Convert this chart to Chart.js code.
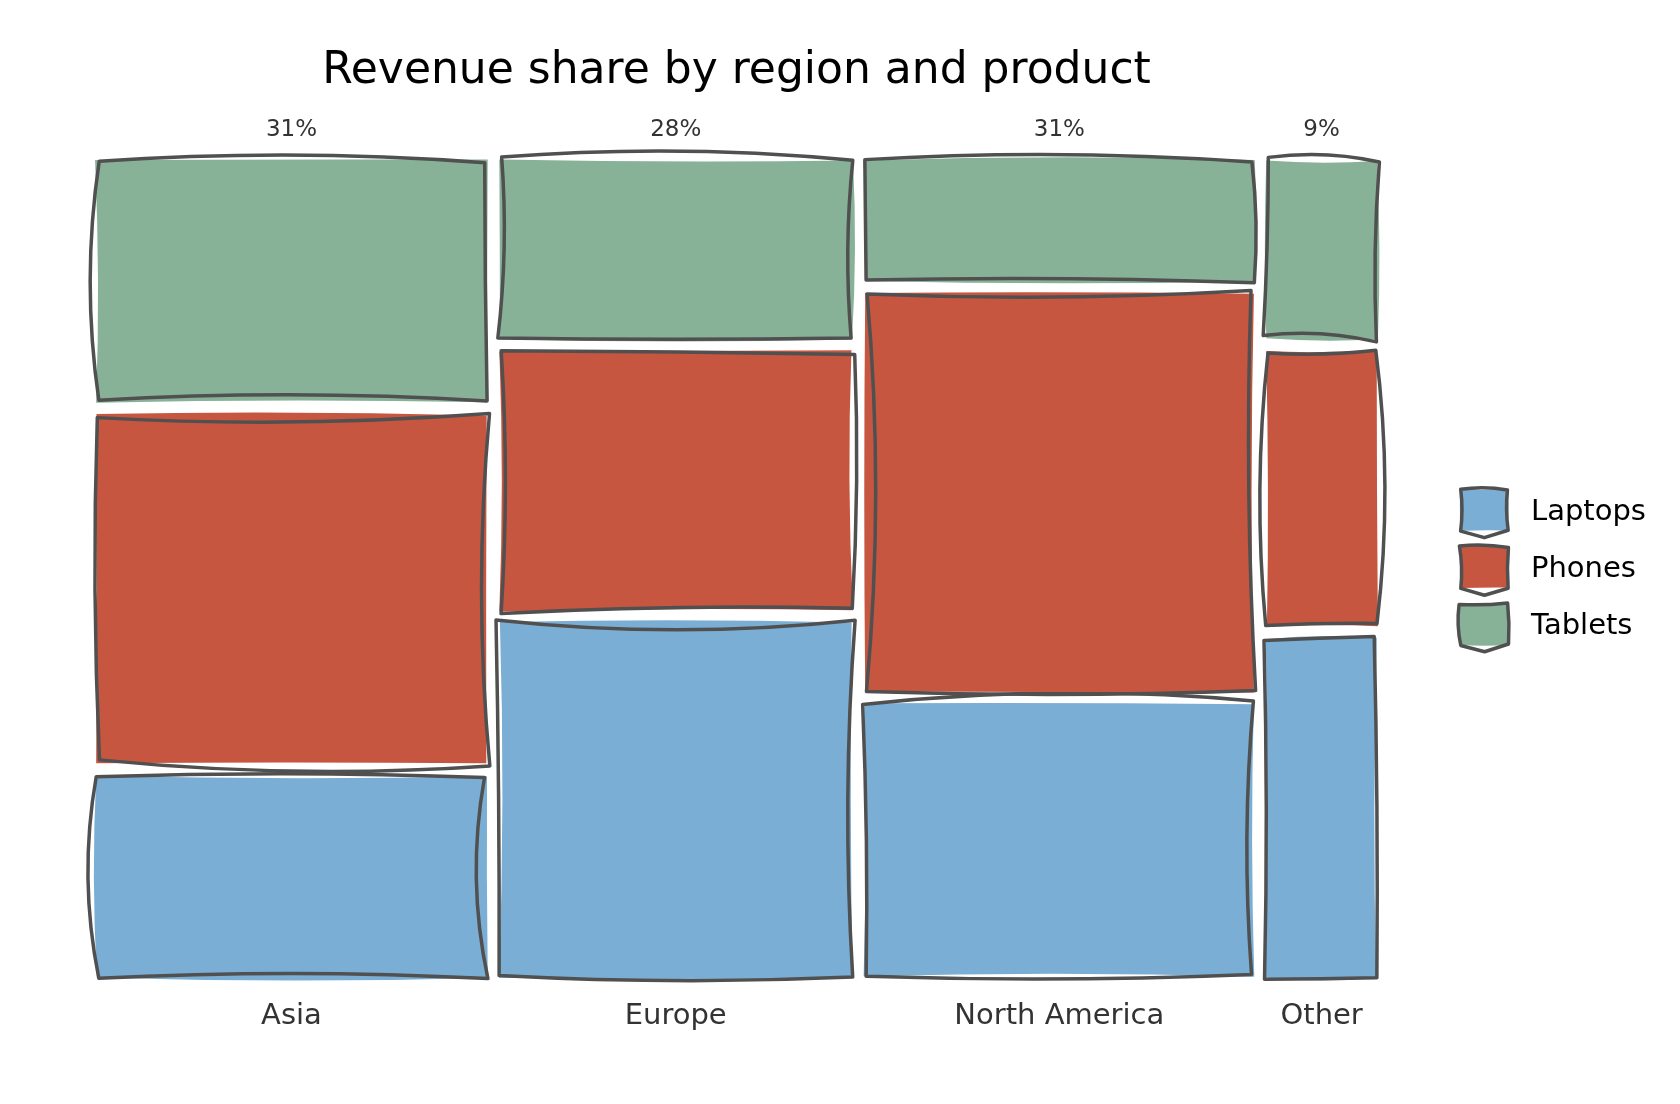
<!DOCTYPE html>
<html>
<head>
<meta charset="utf-8">
<title>Revenue share by region and product</title>
<script src="https://cdn.jsdelivr.net/npm/chart.js@4.4.1/dist/chart.umd.min.js"></script>
<style>
  html, body { margin: 0; padding: 0; background: #fff; }
  #wrap { width: 1680px; height: 1104px; }
</style>
</head>
<body>
<div id="wrap"><canvas id="chart"></canvas></div>
<script>
// columns of the mosaic and the products stacked in each one
const regions = ['Asia', 'Europe', 'North America', 'Other'];
const products = ['Laptops', 'Phones', 'Tablets'];
// revenue share (% of total), one value per region
const laptops = [8.0, 12.7, 10.8, 3.8];
const phones  = [13.8, 9.3, 15.7, 3.1];
const tablets = [9.6, 6.4, 4.8, 2.0];
const productColors = ['#7aaed4', '#c75640', '#88b298'];

const series = [laptops, phones, tablets];
const regionTotals = regions.map((r, i) => series.reduce((s, arr) => s + arr[i], 0));
const grandTotal = regionTotals.reduce((a, b) => a + b, 0);
const shareLabels = regionTotals.map(t => Math.round(t / grandTotal * 100) + '%');

const GAP_X = 0.0094;   // space between columns (axis units)
const GAP_Y = 0.0147;   // space between cells of a column

// column extents on the 0..1 x axis
const columns = [];
let xPos = 0;
regionTotals.forEach(t => {
    const w = t / grandTotal * (1 - GAP_X * (regions.length - 1));
    columns.push({ x0: xPos, x1: xPos + w, mid: xPos + w / 2 });
    xPos += w + GAP_X;
});
const columnMids = columns.map(c => c.mid);

// cells on the 0..1 y axis, Laptops at the bottom
const cells = [];
columns.forEach((col, i) => {
    let y = 0;
    series.forEach((arr, j) => {
        const h = arr[i] / regionTotals[i] * (1 - GAP_Y * (products.length - 1));
        cells.push({ x0: col.x0, x1: col.x1, y0: y, y1: y + h, color: productColors[j] });
        y += h + GAP_Y;
    });
});

// deterministic wobble for the hand drawn look (style only)
function wob(n) {
    const s = Math.sin(n * 127.1 + 311.7) * 43758.5453;
    return (s - Math.floor(s)) * 2 - 1;
}

function sketchPath(ctx, x0, y0, x1, y1, seed, amp, notch) {
    const pts = [[x0, y0], [x1, y0], [x1, y1], [x0, y1]].map((p, k) => [
        p[0] + wob(seed + k * 2) * amp * 0.35,
        p[1] + wob(seed + k * 2 + 1) * amp * 0.35
    ]);
    ctx.beginPath();
    ctx.moveTo(pts[0][0], pts[0][1]);
    for (let k = 0; k < 4; k++) {
        const a = pts[k], b = pts[(k + 1) % 4];
        if (k === 2 && notch) {
            // little v under the legend swatches
            ctx.lineTo((a[0] + b[0]) / 2, (a[1] + b[1]) / 2 + notch);
            ctx.lineTo(b[0], b[1]);
            continue;
        }
        const len = Math.hypot(b[0] - a[0], b[1] - a[1]) || 1;
        const nx = -(b[1] - a[1]) / len, ny = (b[0] - a[0]) / len;
        const bow = wob(seed + 20 + k * 3) * Math.min(amp, len * 0.05);
        ctx.quadraticCurveTo((a[0] + b[0]) / 2 + nx * bow * 2, (a[1] + b[1]) / 2 + ny * bow * 2, b[0], b[1]);
    }
    ctx.closePath();
}

function sketchBox(ctx, x0, y0, x1, y1, color, seed, amp, notch) {
    ctx.save();
    sketchPath(ctx, x0, y0, x1, y1, seed, amp * 0.3, 0);
    ctx.fillStyle = color;
    ctx.fill();
    sketchPath(ctx, x0, y0, x1, y1, seed + 57, amp, notch);
    ctx.lineWidth = 3.5;
    ctx.lineJoin = 'round';
    ctx.lineCap = 'round';
    ctx.strokeStyle = '#505050';
    ctx.stroke();
    ctx.restore();
}

const mosaicPlugin = {
    id: 'mosaic',
    afterDatasetsDraw(chart) {
        const ctx = chart.ctx;
        const xs = chart.scales.x, ys = chart.scales.y;
        cells.forEach((c, k) => {
            sketchBox(ctx,
                xs.getPixelForValue(c.x0), ys.getPixelForValue(c.y1),
                xs.getPixelForValue(c.x1), ys.getPixelForValue(c.y0),
                c.color, k * 17 + 3, 10, 0);
        });
        // legend on the right, centred on the plot
        const area = chart.chartArea;
        const midY = (area.top + area.bottom) / 2;
        const step = 57;
        ctx.save();
        ctx.font = '29px "DejaVu Sans"';
        ctx.fillStyle = '#000';
        ctx.textBaseline = 'middle';
        products.forEach((p, j) => {
            const cy = midY + (j - (products.length - 1) / 2) * step;
            sketchBox(ctx, 1460, cy - 22, 1508, cy + 19, productColors[j], 400 + j * 11, 3, 7);
            ctx.fillText(p, 1531, cy + 1);
        });
        ctx.restore();
    }
};

const tickAxis = (position, labels, size, pad) => ({
    type: 'linear',
    position: position,
    min: 0,
    max: 1,
    grid: { display: false, drawTicks: false, tickLength: 0 },
    border: { display: false },
    afterBuildTicks: scale => { scale.ticks = columnMids.map(v => ({ value: v })); },
    ticks: {
        autoSkip: false,
        maxRotation: 0,
        padding: pad,
        color: '#333',
        font: { family: 'DejaVu Sans', size: size },
        callback: (value, index) => labels[index]
    }
});

new Chart(document.getElementById('chart'), {
    type: 'scatter',
    data: {
        datasets: products.map((p, j) => ({ label: p, data: [], backgroundColor: productColors[j] }))
    },
    options: {
        responsive: true,
        maintainAspectRatio: false,
        animation: false,
        layout: { padding: { left: 96, right: 303, top: 0, bottom: 48 } },
        scales: {
            x: tickAxis('bottom', regions, 29, 22),
            xTop: tickAxis('top', shareLabels, 23, 17),
            y: { type: 'linear', min: 0, max: 1, display: false }
        },
        plugins: {
            legend: { display: false },
            tooltip: { enabled: false },
            title: {
                display: true,
                text: 'Revenue share by region and product',
                color: '#000',
                font: { family: 'DejaVu Sans', size: 44, weight: 'normal' },
                padding: { top: 45, bottom: 1 }
            }
        }
    },
    plugins: [mosaicPlugin]
});
</script>
</body>
</html>
